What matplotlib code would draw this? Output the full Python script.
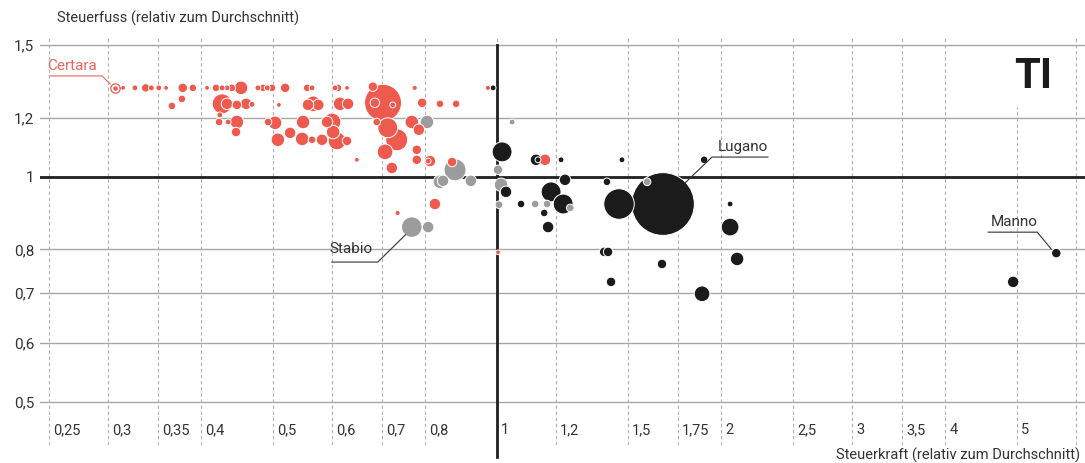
import numpy as np
import pandas as pd
import matplotlib
matplotlib.use("Agg")
import matplotlib.pyplot as plt
from matplotlib import transforms
from matplotlib.ticker import NullLocator

plt.rcParams['font.family'] = ['Roboto', 'DejaVu Sans']

# Gemeinden Tessin: Steuerkraft (x), Steuerfuss (y), Einwohner (Blasengrösse)
rot_x = [0.3066, 0.3143, 0.326, 0.337, 0.343, 0.351, 0.359, 0.378, 0.390, 0.4075,
         0.419, 0.427, 0.4335, 0.440, 0.4528, 0.477, 0.4848, 0.491, 0.4983, 0.519,
         0.5555, 0.564, 0.6056, 0.611, 0.6285, 0.6808, 0.775, 0.972,
         0.3655, 0.377, 0.427, 0.4335, 0.447, 0.460, 0.4684, 0.509, 0.557, 0.566,
         0.575, 0.615, 0.6305, 0.7026, 0.685, 0.724, 0.793, 0.838, 0.881, 0.424,
         0.423, 0.435, 0.447, 0.4458, 0.4922, 0.503, 0.5074, 0.527, 0.547, 0.5486,
         0.564, 0.5817, 0.5908, 0.600, 0.602, 0.6093, 0.6285, 0.648, 0.689, 0.713,
         0.733, 0.707, 0.722, 0.768, 0.785, 0.780, 0.780, 0.8125, 0.808, 0.870,
         0.825, 0.735, 1.003, 1.16]
rot_y = [1.315, 1.315, 1.315, 1.315, 1.315, 1.315, 1.315, 1.315, 1.315, 1.315,
         1.315, 1.315, 1.315, 1.315, 1.315, 1.315, 1.315, 1.315, 1.315, 1.315,
         1.315, 1.315, 1.315, 1.315, 1.315, 1.32, 1.315, 1.315,
         1.244, 1.271, 1.252, 1.252, 1.248, 1.252, 1.25, 1.248, 1.248, 1.252,
         1.248, 1.252, 1.252, 1.256, 1.256, 1.248, 1.256, 1.252, 1.252, 1.210,
         1.184, 1.184, 1.184, 1.148, 1.184, 1.181, 1.121, 1.145, 1.124, 1.184,
         1.121, 1.121, 1.184, 1.184, 1.148, 1.117, 1.117, 1.054, 1.184, 1.163,
         1.121, 1.080, 1.028, 1.184, 1.156, 1.087, 1.054, 1.050, 1.050, 1.047,
         0.920, 0.895, 0.793, 1.054]
rot_ew = [200, 120, 300, 900, 300, 300, 120, 1200, 675, 120,
          675, 300, 300, 675, 2700, 300, 675, 300, 675, 1200,
          675, 300, 300, 675, 120, 1200, 170, 170,
          675, 675, 6100, 1875, 1200, 1875, 300, 120, 1875, 3700,
          1875, 2700, 1875, 21700, 1200, 300, 1200, 675, 675, 300,
          675, 300, 2700, 1200, 675, 2700, 2700, 1875, 2700, 2700,
          675, 1875, 1875, 4800, 2700, 4800, 1200, 120, 675, 6100,
          7500, 3700, 1875, 2700, 1875, 1200, 1200, 1875, 300, 1200,
          1875, 170, 120, 1875]

grau_x = [0.805, 0.878, 0.838, 0.846, 0.922, 1.003, 1.0125, 1.006, 0.768, 0.808,
          1.0475, 1.125, 1.167, 1.591, 1.254]
grau_y = [1.184, 1.022, 0.985, 0.988, 0.988, 1.022, 0.976, 0.918, 0.857, 0.857,
          1.184, 0.920, 0.920, 0.985, 0.909]
grau_ew = [2700, 7500, 2700, 1875, 1875, 1200, 2700, 675, 6500, 1875,
           300, 675, 675, 675, 675]

schwarz_x = [0.9877, 1.0156, 1.028, 1.128, 1.135, 1.219, 1.472, 1.898, 1.234, 1.405,
             1.182, 1.227, 1.4585, 1.671, 1.077, 1.157, 1.171, 2.057, 2.057, 2.102,
             1.393, 1.41, 1.666, 1.423, 1.886, 4.94, 5.645]
schwarz_y = [1.315, 1.080, 0.955, 1.054, 1.054, 1.054, 1.054, 1.054, 0.991, 0.985,
             0.955, 0.920, 0.920, 0.920, 0.920, 0.895, 0.857, 0.920, 0.857, 0.777,
             0.794, 0.794, 0.765, 0.724, 0.698, 0.724, 0.791]
schwarz_ew = [300, 6100, 1875, 1875, 300, 300, 300, 675, 1875, 675,
              6100, 6100, 14700, 63000, 675, 675, 1875, 300, 4800, 2700,
              1200, 1200, 1200, 1200, 3700, 1875, 1200]

x_ticks = [0.25, 0.3, 0.35, 0.4, 0.5, 0.6, 0.7, 0.8, 1, 1.2, 1.5, 1.75, 2, 2.5, 3, 3.5, 4, 5, 6]
x_labels = ['0,25', '0,3', '0,35', '0,4', '0,5', '0,6', '0,7', '0,8', '1', '1,2', '1,5',
            '1,75', '2', '2,5', '3', '3,5', '4', '5', '']
y_ticks = [0.5, 0.6, 0.7, 0.8, 1, 1.2, 1.5]
y_labels = ['0,5', '0,6', '0,7', '0,8', '1', '1,2', '1,5']

ROT = '#ef5a4f'
GRAU = '#9c9c9c'
SCHWARZ = '#1b1b1b'
TEXT = '#333333'

df = pd.concat([
    pd.DataFrame({'x': rot_x, 'y': rot_y, 'ew': rot_ew, 'farbe': ROT}),
    pd.DataFrame({'x': grau_x, 'y': grau_y, 'ew': grau_ew, 'farbe': GRAU}),
    pd.DataFrame({'x': schwarz_x, 'y': schwarz_y, 'ew': schwarz_ew, 'farbe': SCHWARZ}),
]).sort_values('ew', ascending=False)

fig = plt.figure(figsize=(10.85, 4.63), dpi=100)
ax = fig.add_axes([40 / 1085, 18 / 463, 1045 / 1085, 407 / 463])
ax.set_xscale('log')
ax.set_yscale('log')
ax.set_xlim(0.243, 6.17)
ax.set_ylim(0.4384, 1.533)
for s in ax.spines.values():
    s.set_visible(False)

# Raster
for t in y_ticks:
    if t != 1:
        ax.axhline(t, color='#a8a8a8', lw=1, zorder=1)
for t in x_ticks:
    ax.axvline(t, ymin=0, ymax=0.83 if t == 5 else 1, color='#b0b0b0', lw=0.8,
               dashes=(3, 2.5), zorder=1)
ax.axhline(1, color='#1f1f1f', lw=2, zorder=2)
ax.axvline(1, ymin=-0.03, ymax=0.983, color='#1f1f1f', lw=2, zorder=2, clip_on=False)

ax.scatter(df['x'], df['y'], s=df['ew'] / 31 + 8, c=df['farbe'], edgecolors='white',
           linewidths=0.7, zorder=3)

# Certara: Ring
ax.scatter([rot_x[0]], [rot_y[0]], s=45, facecolors='white', edgecolors=ROT,
           linewidths=0.9, zorder=4)
ax.scatter([rot_x[0]], [rot_y[0]], s=5, color=ROT, zorder=5)

ax.set_yticks(y_ticks)
ax.set_yticklabels(y_labels)
ax.yaxis.set_minor_locator(NullLocator())
ax.set_xticks([])
ax.xaxis.set_minor_locator(NullLocator())
ax.tick_params(axis='y', length=0, pad=4, labelsize=11, labelcolor=TEXT)

for t, lab in zip(x_ticks, x_labels):
    ax.annotate(lab, (t, 0.037), xycoords=('data', 'axes fraction'), xytext=(3, 0),
                textcoords='offset points', ha='left', va='center', fontsize=10.5,
                color=TEXT)


def leader(x, y, dxs, dys, text, tx, ty, color):
    trans = (transforms.Affine2D().scale(1 / 72) + fig.dpi_scale_trans
             + transforms.ScaledTranslation(x, y, ax.transData))
    ax.plot(dxs, dys, color=color, lw=0.8, transform=trans, zorder=6, clip_on=False)
    ax.text(tx, ty, text, transform=trans, ha='left', va='center', fontsize=11,
            color=color, zorder=6)


leader(rot_x[0], rot_y[0], [-3.6, -9.4, -46.8], [2.9, 8.6, 8.6], 'Certara', -49, 15.8, '#e8675e')
leader(grau_x[8], grau_y[8], [-4.5, -24.5, -57.6], [-5.5, -25.2, -25.2], 'Stabio', -59, -15.8, TEXT)
leader(schwarz_x[13], schwarz_y[13], [15.8, 35.3, 75.6], [15.1, 33.8, 33.8], 'Lugano', 39.6, 41, TEXT)
leader(schwarz_x[26], schwarz_y[26], [-3.6, -13.7, -49], [2.9, 15.1, 15.1], 'Manno', -47.5, 22.3, TEXT)

fig.text(57 / 1085, 1 - 18 / 463, 'Steuerfuss (relativ zum Durchschnitt)', ha='left',
         va='center', fontsize=10.5, color=TEXT)
fig.text(1080 / 1085, 1 - 455 / 463, 'Steuerkraft (relativ zum Durchschnitt)', ha='right',
         va='center', fontsize=10.5, color=TEXT)
fig.text(1033 / 1085, 1 - 76 / 463, 'TI', ha='center', va='center', fontsize=30,
         fontweight='bold', color=SCHWARZ)

fig.savefig('out.png', dpi=100, facecolor='white')
